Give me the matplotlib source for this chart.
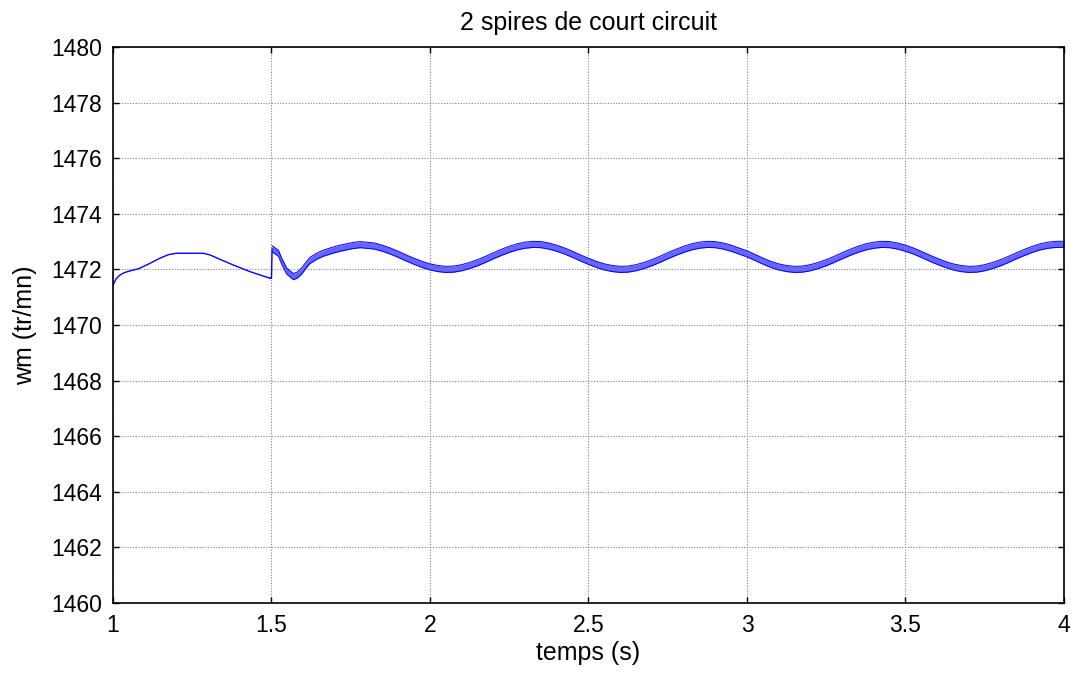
import matplotlib
matplotlib.use("Agg")
import matplotlib.pyplot as plt
import numpy as np

# speed before the fault (no ripple)
t_before = [1.000, 1.005, 1.010, 1.020, 1.035, 1.055, 1.080, 1.110, 1.148, 1.175,
            1.200, 1.285, 1.306, 1.340, 1.379, 1.432, 1.485, 1.497]
w_before = [1471.42, 1471.55, 1471.66, 1471.78, 1471.88, 1471.95, 1472.02, 1472.18, 1472.40, 1472.53,
            1472.58, 1472.58, 1472.52, 1472.35, 1472.16, 1471.92, 1471.72, 1471.68]

# transient just after the short circuit (mean of the rippled band)
t_trans = [1.500, 1.502, 1.512, 1.522, 1.532, 1.548, 1.569, 1.582, 1.595, 1.608, 1.621,
           1.642, 1.663, 1.690, 1.716, 1.740, 1.758, 1.780]
w_trans = [1471.68, 1472.74, 1472.66, 1472.58, 1472.30, 1471.94, 1471.74, 1471.80, 1471.94, 1472.14, 1472.32,
           1472.47, 1472.58, 1472.68, 1472.76, 1472.82, 1472.86, 1472.89]

# steady oscillation, sampled every 25 ms from 1.80 s to 4.00 s
t_steady = np.round(np.arange(1.80, 4.0001, 0.025), 3)
w_steady = [
    1472.89, 1472.84, 1472.76, 1472.66, 1472.54, 1472.41, 1472.29, 1472.18, 1472.09, 1472.03, 1472.00,
    1472.01, 1472.06, 1472.14, 1472.24, 1472.36, 1472.49, 1472.61, 1472.72, 1472.81, 1472.87, 1472.90,
    1472.89, 1472.84, 1472.76, 1472.66, 1472.54, 1472.41, 1472.29, 1472.18, 1472.09, 1472.03, 1472.00,
    1472.01, 1472.06, 1472.14, 1472.24, 1472.36, 1472.49, 1472.61, 1472.72, 1472.81, 1472.87, 1472.90,
    1472.89, 1472.84, 1472.76, 1472.66, 1472.56, 1472.43, 1472.30, 1472.18, 1472.09, 1472.03, 1472.00,
    1472.01, 1472.06, 1472.14, 1472.24, 1472.36, 1472.49, 1472.61, 1472.72, 1472.81, 1472.87, 1472.90,
    1472.89, 1472.84, 1472.76, 1472.66, 1472.54, 1472.41, 1472.29, 1472.18, 1472.09, 1472.03, 1472.00,
    1472.01, 1472.06, 1472.14, 1472.24, 1472.36, 1472.49, 1472.61, 1472.72, 1472.81, 1472.87, 1472.90,
    1472.90,
]
ripple = 0.11  # half height of the speed ripple band

x_ticks = [1, 1.5, 2, 2.5, 3, 3.5, 4]
x_labels = ["1", "1.5", "2", "2.5", "3", "3.5", "4"]
y_ticks = list(range(1460, 1481, 2))

plt.rcParams["font.family"] = ["Liberation Sans", "DejaVu Sans"]

fig = plt.figure(figsize=(10.78, 6.76), dpi=100)
ax = fig.add_axes([0.1048, 0.108, 0.8822, 0.8225])

blue = "#0000ff"
ax.plot(t_before, w_before, color=blue, linewidth=1.0)
ax.plot([t_before[-1], t_trans[0], t_trans[1]], [w_before[-1], w_trans[0], w_trans[1]],
        color=blue, linewidth=1.0)

t_a = np.concatenate([t_trans[1:], t_steady[1:]])
w_a = np.array(w_trans[1:] + w_steady[1:])
ax.fill_between(t_a, w_a - ripple, w_a + ripple, color=blue, alpha=0.6, linewidth=0)
ax.plot(t_a, w_a + ripple, color=blue, linewidth=0.7)
ax.plot(t_a, w_a - ripple, color=blue, linewidth=0.7)

ax.set_xlim(1, 4)
ax.set_ylim(1460, 1480)
ax.set_xticks(x_ticks)
ax.set_xticklabels(x_labels)
ax.set_yticks(y_ticks)

ax.grid(True, color="#808080", linestyle=(0, (1, 1.5)), linewidth=0.8)
ax.tick_params(direction="in", length=4, width=1, top=True, right=True,
               labelsize=16.5, pad=8)
for s in ax.spines.values():
    s.set_linewidth(1.2)

ax.set_title("2 spires de court circuit", fontsize=18, pad=12)
ax.set_xlabel("temps (s)", fontsize=18, labelpad=3)
ax.set_ylabel("wm (tr/mn)", fontsize=18, labelpad=10)

fig.savefig("out.png", dpi=100)
plt.close(fig)
